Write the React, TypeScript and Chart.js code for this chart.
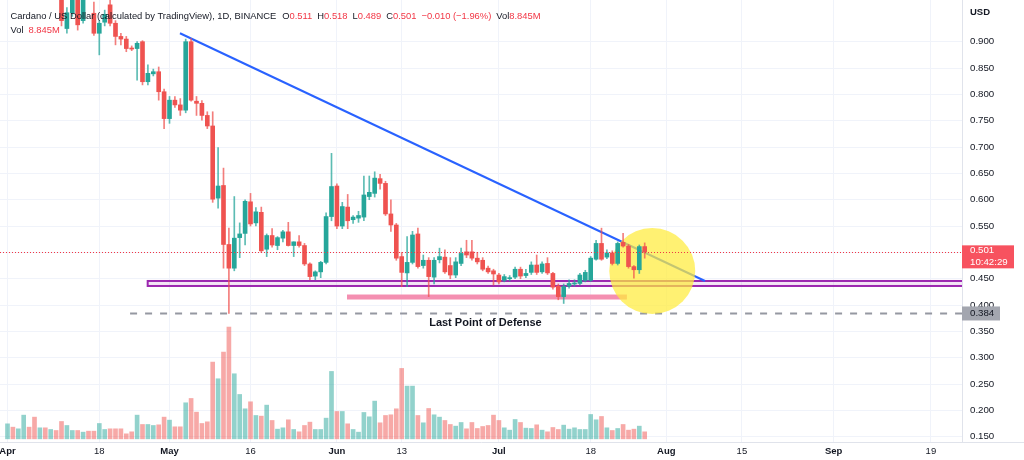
import { useEffect, useRef } from 'react';
import { Chart, registerables } from 'chart.js';

Chart.register(...registerables);

const FONT = '"Liberation Sans", Arial, Helvetica, sans-serif';
const TEXT = '#131722';
const RED_TEXT = '#f23645';
const UP = '#26a69a';
const DOWN = '#ef5350';
const UP_WICK = 'rgba(38,166,154,0.75)';
const DOWN_WICK = 'rgba(239,83,80,0.75)';
const UP_VOL = 'rgba(38,166,154,0.5)';
const DOWN_VOL = 'rgba(239,83,80,0.5)';

// Daily candles, index 0 = 1 Apr 2022
const openPrices = [
  1.14, 1.16, 1.15, 1.17, 1.2, 1.17, 1.11, 1.13, 1.09, 1.1,
  1.02, 0.925, 0.955, 0.99, 0.94, 1.0, 0.954, 0.916, 0.937, 0.97,
  0.935, 0.91, 0.905, 0.888, 0.887, 0.9, 0.824, 0.839, 0.843, 0.805,
  0.754, 0.789, 0.78, 0.77, 0.9, 0.787, 0.783, 0.76, 0.74, 0.603,
  0.627, 0.515, 0.47, 0.528, 0.536, 0.596, 0.556, 0.576, 0.506, 0.532,
  0.513, 0.527, 0.539, 0.513, 0.52, 0.513, 0.478, 0.455, 0.463, 0.481,
  0.568, 0.626, 0.55, 0.586, 0.562, 0.565, 0.567, 0.606, 0.612, 0.64,
  0.631, 0.573, 0.552, 0.492, 0.461, 0.481, 0.535, 0.475, 0.485, 0.453,
  0.486, 0.491, 0.475, 0.457, 0.479, 0.501, 0.501, 0.489, 0.485, 0.47,
  0.465, 0.457, 0.447, 0.45, 0.453, 0.468, 0.456, 0.462, 0.476, 0.463,
  0.479, 0.46, 0.436, 0.416, 0.436, 0.44, 0.441, 0.447, 0.447, 0.487,
  0.517, 0.491, 0.499, 0.479, 0.519, 0.512, 0.473, 0.467, 0.511,
];
const highPrices = [
  1.18, 1.19, 1.18, 1.22, 1.22, 1.18, 1.15, 1.14, 1.12, 1.11,
  1.04, 0.965, 1.01, 1.01, 1.0, 1.02, 0.975, 0.94, 0.96, 0.985,
  0.94, 0.916, 0.91, 0.892, 0.9, 0.902, 0.856, 0.848, 0.852, 0.81,
  0.796, 0.796, 0.792, 0.905, 0.906, 0.796, 0.788, 0.767, 0.767, 0.699,
  0.66, 0.546, 0.606, 0.556, 0.6, 0.612, 0.585, 0.586, 0.535, 0.545,
  0.53, 0.542, 0.557, 0.52, 0.532, 0.517, 0.48, 0.465, 0.483, 0.575,
  0.688, 0.63, 0.595, 0.61, 0.57, 0.578, 0.645, 0.645, 0.653, 0.648,
  0.635, 0.6, 0.555, 0.5, 0.53, 0.54, 0.546, 0.495, 0.49, 0.49,
  0.508, 0.505, 0.49, 0.49, 0.508, 0.523, 0.523, 0.5, 0.49, 0.474,
  0.468, 0.46, 0.458, 0.456, 0.472, 0.472, 0.468, 0.482, 0.495, 0.482,
  0.49, 0.462, 0.44, 0.44, 0.448, 0.448, 0.46, 0.466, 0.492, 0.523,
  0.546, 0.505, 0.503, 0.52, 0.536, 0.515, 0.475, 0.514, 0.518,
];
const lowPrices = [
  1.1, 1.13, 1.13, 1.15, 1.14, 1.09, 1.06, 1.07, 1.07, 0.99,
  0.93, 0.916, 0.948, 0.922, 0.935, 0.982, 0.912, 0.875, 0.93, 0.93,
  0.894, 0.894, 0.881, 0.883, 0.827, 0.818, 0.818, 0.835, 0.789, 0.735,
  0.745, 0.775, 0.76, 0.765, 0.787, 0.76, 0.751, 0.735, 0.595, 0.584,
  0.47, 0.384, 0.465, 0.49, 0.514, 0.55, 0.55, 0.5, 0.492, 0.51,
  0.505, 0.52, 0.512, 0.492, 0.51, 0.475, 0.448, 0.448, 0.452, 0.478,
  0.56, 0.545, 0.545, 0.545, 0.555, 0.557, 0.56, 0.6, 0.605, 0.62,
  0.57, 0.54, 0.485, 0.435, 0.435, 0.478, 0.47, 0.47, 0.416, 0.44,
  0.48, 0.46, 0.45, 0.452, 0.475, 0.49, 0.485, 0.478, 0.465, 0.46,
  0.438, 0.44, 0.444, 0.446, 0.45, 0.45, 0.452, 0.458, 0.458, 0.46,
  0.458, 0.43, 0.41, 0.403, 0.432, 0.436, 0.438, 0.444, 0.445, 0.485,
  0.485, 0.488, 0.476, 0.476, 0.51, 0.47, 0.451, 0.46, 0.489,
];
const closePrices = [
  1.16, 1.15, 1.17, 1.2, 1.17, 1.11, 1.13, 1.09, 1.1, 1.02,
  0.94, 0.955, 1.0, 0.932, 0.99, 0.988, 0.916, 0.935, 0.952, 0.935,
  0.91, 0.905, 0.887, 0.886, 0.897, 0.824, 0.84, 0.843, 0.805, 0.754,
  0.789, 0.78, 0.77, 0.9, 0.789, 0.783, 0.76, 0.74, 0.601, 0.626,
  0.515, 0.47, 0.527, 0.535, 0.597, 0.554, 0.577, 0.503, 0.532, 0.514,
  0.528, 0.539, 0.513, 0.52, 0.513, 0.478, 0.454, 0.463, 0.481, 0.568,
  0.625, 0.55, 0.587, 0.56, 0.567, 0.57, 0.609, 0.614, 0.641, 0.631,
  0.573, 0.552, 0.489, 0.462, 0.481, 0.533, 0.473, 0.485, 0.454, 0.485,
  0.492, 0.463, 0.457, 0.482, 0.498, 0.495, 0.489, 0.482, 0.468, 0.463,
  0.459, 0.444, 0.454, 0.452, 0.468, 0.455, 0.46, 0.476, 0.462, 0.478,
  0.461, 0.434, 0.416, 0.435, 0.441, 0.442, 0.457, 0.462, 0.489, 0.517,
  0.487, 0.499, 0.479, 0.517, 0.512, 0.473, 0.467, 0.511, 0.501,
];
// Volume in millions
const volumesM = [
  18.95, 14.74, 12.64, 29.91, 14.74, 27.38, 13.9, 13.9, 11.79, 10.53,
  21.9, 16.85, 10.53, 10.53, 8.42, 9.69, 9.69, 19.38, 11.79, 12.64,
  12.64, 12.64, 6.32, 8.85, 29.91, 18.11, 18.11, 16.85, 17.69, 27.38,
  23.59, 15.16, 15.16, 45.49, 50.97, 33.7, 19.38, 21.48, 96.88, 75.82,
  109.51, 141.1, 82.13, 56.02, 37.91, 46.75, 29.48, 28.64, 42.54, 23.17,
  12.21, 13.9, 24.01, 11.79, 8.85, 16.85, 21.06, 11.79, 11.79, 26.11,
  85.08, 34.54, 34.54, 18.95, 11.79, 8.42, 33.27, 27.8, 47.6, 20.22,
  29.48, 30.33, 37.91, 88.87, 66.55, 66.55, 29.48, 20.22, 38.33, 30.33,
  27.38, 23.17, 18.11, 16.01, 20.64, 12.64, 20.64, 13.06, 15.58, 16.85,
  29.91, 23.17, 13.9, 10.95, 24.43, 20.64, 13.48, 13.06, 17.69, 10.95,
  8.85, 14.32, 11.79, 17.27, 12.21, 13.9, 11.79, 11.79, 30.75, 24.01,
  28.22, 13.9, 10.53, 13.06, 18.11, 10.95, 12.21, 16.01, 8.845,
];

const tickDays = [0, 17, 30, 45, 61, 73, 91, 108, 122, 136, 153, 171];
const tickLabels = ['Apr', '18', 'May', '16', 'Jun', '13', 'Jul', '18', 'Aug', '15', 'Sep', '19'];
const monthNames = ['Apr', 'May', 'Jun', 'Jul', 'Aug', 'Sep'];
const priceTicks = [0.15, 0.2, 0.25, 0.3, 0.35, 0.4, 0.45, 0.5, 0.55, 0.6, 0.65, 0.7, 0.75, 0.8, 0.85, 0.9];

const headerTitle = 'Cardano / US Dollar (calculated by TradingView), 1D, BINANCE';
const countdown = '10:42:29';

// Drawings (data coordinates: day index, price)
const trendLine = { fromDay: 31.94, fromPrice: 0.916, toDay: 129.17, toPrice: 0.4457 };
const supportZone = { fromDay: 25.96, top: 0.4457, bottom: 0.4362 };
const pinkZone = { fromDay: 62.87, toDay: 114.7, top: 0.42, bottom: 0.4105 };
const defenseLevel = { fromDay: 22.7, price: 0.384 };
const highlight = { day: 119.4, price: 0.4646, radiusDays: 7.96 };
const defenseLabel = { day: 88.5, price: 0.366, text: 'Last Point of Defense' };

const X_MIN = -1.389;
const X_MAX = 176.76;
const Y_MIN = 0.13998;
const Y_MAX = 0.97917;
const V_MIN = -4;
const V_MAX = 554;

const drawings = {
  id: 'drawings',
  beforeDatasetsDraw(chart: any) {
    const { ctx, chartArea: a, scales } = chart;
    const X = (d: number) => scales.x.getPixelForValue(d);
    const Y = (p: number) => scales.y.getPixelForValue(p);
    ctx.save();
    ctx.beginPath();
    ctx.rect(a.left, a.top, a.right - a.left, a.bottom - a.top);
    ctx.clip();

    // support zone rectangle
    const zx = X(supportZone.fromDay);
    const zt = Y(supportZone.top);
    const zb = Y(supportZone.bottom);
    ctx.fillStyle = 'rgba(156,39,176,0.12)';
    ctx.fillRect(zx, zt, a.right - zx, zb - zt);
    ctx.strokeStyle = '#9c27b0';
    ctx.lineWidth = 2;
    ctx.strokeRect(zx, zt, a.right + 10 - zx, zb - zt);

    // pink zone
    ctx.fillStyle = '#f48fb1';
    const px1 = X(pinkZone.fromDay);
    const px2 = X(pinkZone.toDay);
    ctx.fillRect(px1, Y(pinkZone.top), px2 - px1, Y(pinkZone.bottom) - Y(pinkZone.top));

    // dashed defense level
    ctx.setLineDash([7, 8]);
    ctx.strokeStyle = '#9598a1';
    ctx.lineWidth = 2;
    ctx.beginPath();
    ctx.moveTo(X(defenseLevel.fromDay), Y(defenseLevel.price));
    ctx.lineTo(a.right, Y(defenseLevel.price));
    ctx.stroke();
    ctx.setLineDash([]);

    // trend line
    ctx.strokeStyle = '#2962ff';
    ctx.lineWidth = 2;
    ctx.beginPath();
    ctx.moveTo(X(trendLine.fromDay), Y(trendLine.fromPrice));
    ctx.lineTo(X(trendLine.toDay), Y(trendLine.toPrice));
    ctx.stroke();

    // highlight circle
    const cx = X(highlight.day);
    const cy = Y(highlight.price);
    const r = X(highlight.day + highlight.radiusDays) - cx;
    ctx.fillStyle = 'rgba(255,235,59,0.72)';
    ctx.beginPath();
    ctx.arc(cx, cy, r, 0, Math.PI * 2);
    ctx.fill();
    ctx.restore();
  },
  afterDatasetsDraw(chart: any) {
    const { ctx, chartArea: a, scales } = chart;
    const X = (d: number) => scales.x.getPixelForValue(d);
    const Y = (p: number) => scales.y.getPixelForValue(p);
    const last = closePrices.length - 1;
    ctx.save();
    ctx.strokeStyle = RED_TEXT;
    ctx.lineWidth = 1;
    ctx.setLineDash([1, 2]);
    const ly = Math.round(Y(closePrices[last])) + 0.5;
    ctx.beginPath();
    ctx.moveTo(a.left, ly);
    ctx.lineTo(a.right, ly);
    ctx.stroke();
    ctx.setLineDash([]);

    ctx.fillStyle = TEXT;
    ctx.font = `bold 11px ${FONT}`;
    ctx.textAlign = 'center';
    ctx.textBaseline = 'middle';
    ctx.fillText(defenseLabel.text, X(defenseLabel.day), Y(defenseLabel.price));
    ctx.restore();
  },
  afterDraw(chart: any) {
    const { ctx, chartArea: a, scales } = chart;
    const Y = (p: number) => scales.y.getPixelForValue(p);
    const last = closePrices.length - 1;
    ctx.save();
    // bottom border under price axis
    ctx.strokeStyle = '#e0e3eb';
    ctx.lineWidth = 1;
    ctx.beginPath();
    ctx.moveTo(a.right, Math.round(a.bottom) + 0.5);
    ctx.lineTo(1024, Math.round(a.bottom) + 0.5);
    ctx.stroke();

    // last price box
    const py = Y(closePrices[last]);
    ctx.fillStyle = '#f7525f';
    ctx.fillRect(a.right, py - 6.5, 52, 23);
    ctx.fillStyle = '#ffffff';
    ctx.font = `9.7px ${FONT}`;
    ctx.textAlign = 'left';
    ctx.textBaseline = 'middle';
    ctx.fillText(closePrices[last].toFixed(3), a.right + 8, py - 1.5);
    ctx.fillText(countdown, a.right + 8, py + 10.5);

    // defense level box
    const dy = Y(defenseLevel.price);
    ctx.fillStyle = '#a3a6af';
    ctx.fillRect(a.right, dy - 7, 38, 14);
    ctx.fillStyle = TEXT;
    ctx.fillText(defenseLevel.price.toFixed(3), a.right + 8, dy);

    // USD
    ctx.font = `bold 9.5px ${FONT}`;
    ctx.fillText('USD', a.right + 8, 12);

    // header
    const o = openPrices[last];
    const h = highPrices[last];
    const l = lowPrices[last];
    const c = closePrices[last];
    const prev = closePrices[last - 1];
    const chg = c - prev;
    const pct = (chg / prev) * 100;
    const sign = chg < 0 ? '\u2212' : '+';
    const vol = volumesM[last].toFixed(3) + 'M';
    ctx.font = `9.4px ${FONT}`;
    const segs: [string, string, number][] = [
      [headerTitle, TEXT, 6],
      ['O', TEXT, 0], [o.toFixed(3), RED_TEXT, 5],
      ['H', TEXT, 0], [h.toFixed(3), RED_TEXT, 5],
      ['L', TEXT, 0], [l.toFixed(3), RED_TEXT, 5],
      ['C', TEXT, 0], [c.toFixed(3), RED_TEXT, 5],
      [`${sign}${Math.abs(chg).toFixed(3)} (${sign}${Math.abs(pct).toFixed(2)}%)`, RED_TEXT, 5],
      ['Vol', TEXT, 0], [vol, RED_TEXT, 0],
    ];
    let x = 10.5;
    for (const [t, col, gap] of segs) {
      ctx.fillStyle = col;
      ctx.fillText(t, x, 16);
      x += ctx.measureText(t).width + gap;
    }
    ctx.fillStyle = TEXT;
    ctx.fillText('Vol', 10.5, 30);
    ctx.fillStyle = RED_TEXT;
    ctx.fillText(vol, 10.5 + ctx.measureText('Vol').width + 5, 30);
    ctx.restore();
  },
};

export default function App() {
  const ref = useRef<HTMLCanvasElement>(null);

  useEffect(() => {
    if (!ref.current) return;
    const idx = closePrices.map((_, i) => i);
    const isUp = (i: number) => closePrices[i] >= openPrices[i];
    const bodies = idx.map((i) => ({ x: i, y: [Math.min(openPrices[i], closePrices[i]), Math.max(openPrices[i], closePrices[i])] }));
    const wicks = idx.map((i) => ({ x: i, y: [lowPrices[i], highPrices[i]] }));
    const vols = idx.map((i) => ({ x: i, y: volumesM[i] }));

    const chart = new Chart(ref.current, {
      type: 'bar',
      data: {
        datasets: [
          {
            label: 'body',
            data: bodies as any,
            backgroundColor: idx.map((i) => (isUp(i) ? UP : DOWN)),
            barThickness: 4,
            minBarLength: 1,
            grouped: false,
            borderWidth: 0,
            xAxisID: 'x',
            yAxisID: 'y',
            clip: 0,
            order: 0,
          } as any,
          {
            label: 'wick',
            data: wicks as any,
            backgroundColor: idx.map((i) => (isUp(i) ? UP_WICK : DOWN_WICK)),
            barThickness: 1,
            grouped: false,
            borderWidth: 0,
            xAxisID: 'x',
            yAxisID: 'y',
            clip: 0,
            order: 1,
          } as any,
          {
            label: 'volume',
            data: vols as any,
            backgroundColor: idx.map((i) => (isUp(i) ? UP_VOL : DOWN_VOL)),
            barThickness: 4,
            grouped: false,
            borderWidth: 0,
            xAxisID: 'x',
            yAxisID: 'yv',
            order: 2,
          } as any,
        ],
      },
      options: {
        responsive: false,
        animation: false,
        events: [],
        layout: { padding: 0 },
        plugins: { legend: { display: false }, tooltip: { enabled: false }, title: { display: false } },
        scales: {
          x: {
            type: 'linear',
            min: X_MIN,
            max: X_MAX,
            offset: false,
            afterBuildTicks: (s: any) => {
              s.ticks = tickDays.map((v) => ({ value: v }));
            },
            afterFit: (s: any) => {
              s.height = 18;
              s.paddingLeft = 0;
              s.paddingRight = 0;
            },
            ticks: {
              autoSkip: false,
              maxRotation: 0,
              padding: 4,
              color: TEXT,
              callback: (_v: any, i: number) => tickLabels[i],
              font: (ctx: any) => ({
                family: FONT,
                size: 9.5,
                weight: monthNames.includes(tickLabels[ctx.index]) ? 'bold' : 'normal',
              }),
            },
            grid: { color: '#f0f3fa', drawTicks: false, offset: false },
            border: { display: true, color: '#e0e3eb' },
          },
          y: {
            type: 'linear',
            position: 'right',
            min: Y_MIN,
            max: Y_MAX,
            afterBuildTicks: (s: any) => {
              s.ticks = priceTicks.map((v) => ({ value: v }));
            },
            afterFit: (s: any) => {
              s.width = 62;
              s.paddingTop = 0;
              s.paddingBottom = 0;
            },
            ticks: {
              padding: 8,
              color: TEXT,
              font: { family: FONT, size: 9.7 },
              callback: (v: any) => Number(v).toFixed(3),
            },
            grid: { color: '#f0f3fa', drawTicks: false },
            border: { display: true, color: '#e0e3eb' },
          },
          yv: {
            type: 'linear',
            display: false,
            min: V_MIN,
            max: V_MAX,
          },
        },
      } as any,
      plugins: [drawings],
    });
    return () => chart.destroy();
  }, []);

  return (
    <div style={{ position: 'fixed', left: 0, top: 0, width: 1024, height: 460, background: '#ffffff' }}>
      <canvas ref={ref} width={1024} height={460} style={{ display: 'block' }} />
    </div>
  );
}
